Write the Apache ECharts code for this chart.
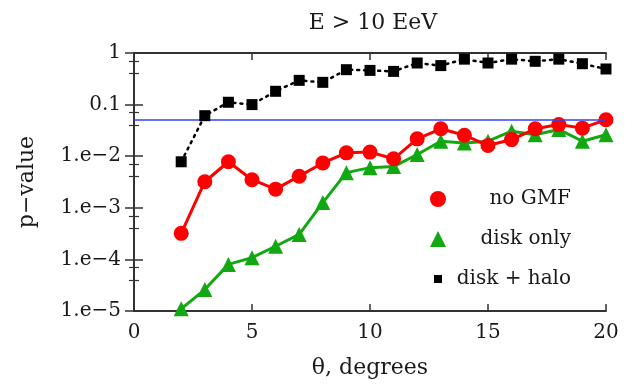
<!DOCTYPE html>
<html>
<head>
<meta charset="utf-8">
<script src="https://cdn.jsdelivr.net/npm/echarts@6/dist/echarts.min.js"></script>
<style>
  html, body { margin: 0; padding: 0; background: #fff; }
  #chart { width: 625px; height: 384px; }
</style>
</head>
<body>
<div id="chart"></div>
<script>
// Angular scale theta (degrees)
const theta = [2, 3, 4, 5, 6, 7, 8, 9, 10, 11, 12, 13, 14, 15, 16, 17, 18, 19, 20];

// p-values for each magnetic field model
const noGMF = [3.2e-4, 3.2e-3, 7.8e-3, 3.5e-3, 2.3e-3, 4.1e-3, 7.4e-3, 0.0116, 0.012, 0.0089,
               0.0217, 0.034, 0.0255, 0.0161, 0.021, 0.034, 0.041, 0.035, 0.051];
const diskOnly = [1.1e-5, 2.6e-5, 8.0e-5, 1.08e-4, 1.8e-4, 3.05e-4, 1.26e-3, 4.8e-3, 6.0e-3, 6.3e-3,
                  0.0108, 0.0195, 0.018, 0.0195, 0.0305, 0.026, 0.033, 0.0195, 0.026];
const diskHalo = [0.0078, 0.061, 0.111, 0.100, 0.181, 0.295, 0.27, 0.475, 0.46, 0.44,
                  0.64, 0.57, 0.76, 0.64, 0.76, 0.69, 0.76, 0.62, 0.49];

// Significance threshold
const threshold = 0.05;

// Axis ranges
const xRange = [0, 20];
const xStep = 5;
const yRange = [1e-5, 1];

const FONT = 'DejaVu Serif';
const INK = '#1a1a1a';

const pairs = (ys) => theta.map((t, i) => [t, ys[i]]);

// Decade labels: 1, 0.1, then 1.e−n
const yLabelFor = (v) => {
  const e = Math.round(Math.log10(v));
  if (e === 0) return '1';
  if (e === -1) return '0.1';
  return '1.e\u2212' + (-e);
};

const chart = echarts.init(document.getElementById('chart'), null, { renderer: 'canvas' });

const axisLine = { show: true, lineStyle: { color: '#333', width: 2 } };
const xTick = { show: true, inside: true, length: 7, lineStyle: { color: '#333', width: 1.5 } };
const yTick = { show: true, inside: true, length: 9, lineStyle: { color: '#333', width: 1.5 } };
const yMinor = { show: true, splitNumber: 3, length: 5, lineStyle: { color: '#333', width: 1.2 } };

chart.setOption({
  animation: false,
  backgroundColor: '#fff',
  title: {
    text: 'E > 10 EeV',
    left: 368, top: 7, textAlign: 'center',
    textStyle: { fontFamily: FONT, fontSize: 22, fontWeight: 'normal', color: INK }
  },
  grid: { left: 134, right: 19, top: 53, bottom: 72 },
  legend: {
    orient: 'vertical',
    left: 425, top: 184,
    itemWidth: 16, itemHeight: 16,
    itemGap: 20,
    data: [
      { name: 'no GMF', icon: 'circle' },
      { name: 'disk only', icon: 'triangle' },
      { name: 'disk + halo', icon: 'path://M0,0 M4,4 H12 V12 H4 Z M16,16' }
    ],
    formatter: (name) => '{r|' + name + '}',
    textStyle: {
      fontFamily: FONT, fontSize: 20, color: INK,
      rich: { r: { fontFamily: FONT, fontSize: 20, color: INK, width: 120, align: 'right' } }
    }
  },
  xAxis: [
    {
      type: 'value', min: xRange[0], max: xRange[1], interval: xStep,
      name: '\u03b8, degrees', nameLocation: 'middle', nameGap: 46,
      nameTextStyle: { fontFamily: FONT, fontSize: 22, color: INK },
      axisLine: axisLine,
      axisTick: xTick,
      axisLabel: { fontFamily: FONT, fontSize: 20, color: INK, margin: 12 },
      splitLine: { show: false }
    },
    {
      type: 'value', min: xRange[0], max: xRange[1], interval: xStep, position: 'top',
      axisLine: axisLine,
      axisTick: xTick,
      axisLabel: { show: false },
      splitLine: { show: false }
    }
  ],
  yAxis: [
    {
      type: 'log', logBase: 10, min: yRange[0], max: yRange[1],
      name: 'p\u2212value', nameLocation: 'middle', nameGap: 96, nameRotate: 90,
      nameTextStyle: { fontFamily: FONT, fontSize: 22, color: INK },
      axisLine: axisLine,
      axisTick: yTick,
      minorTick: yMinor,
      axisLabel: { fontFamily: FONT, fontSize: 20, color: INK, margin: 13, formatter: yLabelFor },
      splitLine: { show: false }
    },
    {
      type: 'log', logBase: 10, min: yRange[0], max: yRange[1], position: 'right',
      axisLine: axisLine,
      axisTick: yTick,
      minorTick: yMinor,
      axisLabel: { show: false },
      splitLine: { show: false }
    }
  ],
  series: [
    {
      name: 'disk only', type: 'line', data: pairs(diskOnly),
      symbol: 'triangle', symbolSize: 15,
      itemStyle: { color: '#12a812' },
      lineStyle: { color: '#12a812', width: 3 },
      z: 3
    },
    {
      name: 'no GMF', type: 'line', data: pairs(noGMF),
      symbol: 'circle', symbolSize: 15,
      itemStyle: { color: '#ff0000' },
      lineStyle: { color: '#ff0000', width: 3 },
      z: 4,
      markLine: {
        silent: true, symbol: 'none',
        label: { show: false },
        lineStyle: { color: '#3040ff', width: 1.6, type: 'solid' },
        data: [{ yAxis: threshold }]
      }
    },
    {
      name: 'disk + halo', type: 'line', data: pairs(diskHalo),
      symbol: 'rect', symbolSize: 11,
      itemStyle: { color: '#000' },
      lineStyle: { color: '#000', width: 2.5, type: [2, 5], cap: 'round' },
      z: 5
    }
  ]
});
</script>
</body>
</html>
